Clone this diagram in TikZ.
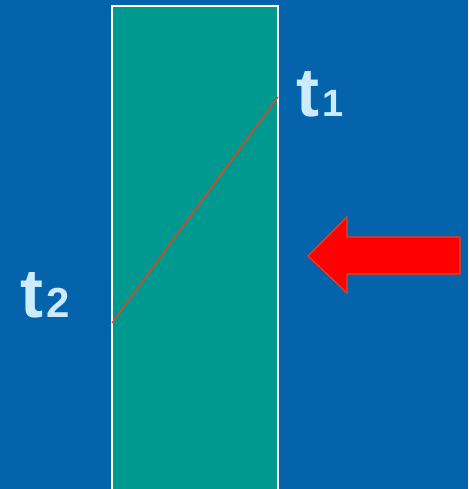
\documentclass[tikz,border=0pt]{standalone}
\usepackage{fontspec}
\setmainfont{Liberation Sans}
\usepackage{xcolor}
\definecolor{bgblue}{HTML}{0563AC}
\definecolor{slab}{HTML}{009990}
\definecolor{lbl}{HTML}{CCEBFF}
\definecolor{heatred}{HTML}{FF0000}
\definecolor{profile}{HTML}{FF3A10}
\tikzset{
  tlabel/.style={anchor=base west, inner sep=0pt, text=lbl, font=\bfseries},
}
% t with a subscript digit: #1 digit, #2 digit size
\newcommand{\tsym}[2]{{\fontsize{69}{69}\selectfont t}\kern3pt{\fontsize{#2}{#2}\selectfont #1}}

\begin{document}
\begin{tikzpicture}[x=1pt, y=-1pt]
        % Background
        \fill[bgblue] (0,0) rectangle (468,489);
        \useasboundingbox (0,0) rectangle (468,489);

        % Wall
        \fill[slab, draw=white, line width=1.5pt] (112,6) rectangle (278,495);

        % Temperature profile
        \coordinate (hot) at (278,97);
        \coordinate (cold) at (112,323);
        \draw[profile, line width=1.3pt] (hot) -- (cold);

        % Labels
        \node[tlabel] (t1) at (296,117) {\tsym{1}{38}};
        \node[tlabel] (t2) at (20,317) {\tsym{2}{42}};

        % Heat flow arrow
        \filldraw[fill=heatred, draw=profile, line width=1.2pt, line join=miter]
            (308,256) -- (347,217) -- (347,237) -- (460,237)
            -- (460,274) -- (347,274) -- (347,293) -- cycle;
    \end{tikzpicture}
\end{document}
